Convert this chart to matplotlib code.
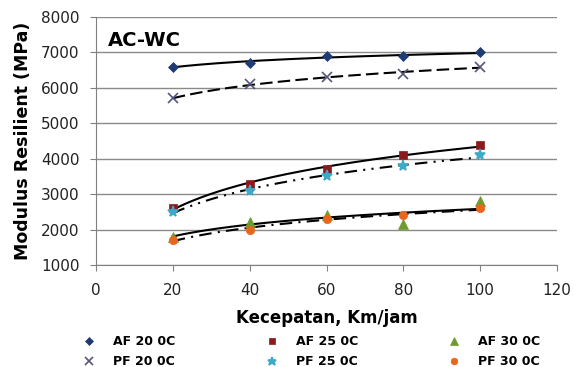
import numpy as np
import matplotlib
matplotlib.use("Agg")
import matplotlib.pyplot as plt

speed = [20, 40, 60, 80, 100]
af20 = [6600, 6700, 6900, 6900, 7000]
pf20 = [5700, 6100, 6300, 6400, 6600]
af25 = [2600, 3300, 3700, 4100, 4400]
pf25 = [2500, 3100, 3500, 3800, 4100]
af30 = [1800, 2200, 2400, 2150, 2800]
pf30 = [1700, 2000, 2300, 2400, 2600]

labels = ["AF 20 0C", "PF 20 0C", "AF 25 0C", "PF 25 0C", "AF 30 0C", "PF 30 0C"]
series = [af20, pf20, af25, pf25, af30, pf30]
markers = ["D", "x", "s", "*", "^", "o"]
colors = ["#1F3B73", "#55557A", "#8B1A1A", "#3FA9C9", "#6E9A2E", "#E8671C"]
msizes = [5, 7, 6, 8, 7, 6]
trend_styles = ["-", (0, (6, 2.5)), "-", (0, (6, 3, 1, 3, 1, 3)), "-", (0, (6, 3, 1, 3))]

plt.rcParams['font.family'] = ['DejaVu Sans']

fig = plt.figure(figsize=(5.74, 3.67), dpi=100)
ax = fig.add_axes([96/574, 1 - 265/367, (557 - 96)/574, (265 - 17)/367])

x = np.array(speed, dtype=float)
xs = np.linspace(20, 100, 200)
handles = []
for ys, m, c, ms, ls, lab in zip(series, markers, colors, msizes, trend_styles, labels):
    a, b = np.polyfit(np.log(x), np.array(ys, dtype=float), 1)
    ax.plot(xs, a*np.log(xs) + b, color="black", lw=1.5, linestyle=ls, zorder=2)
    mew = 1.2 if m in ("x", "*") else 0.5
    h, = ax.plot(x, ys, linestyle="none", marker=m, color=c, markersize=ms,
                 markeredgewidth=mew, zorder=3, label=lab)
    handles.append(h)

ax.set_xlim(0, 120)
ax.set_ylim(1000, 8000)
ax.set_xticks(range(0, 121, 20))
ax.set_yticks(range(1000, 8001, 1000))
ax.yaxis.grid(True, color="#8a8a8a", lw=1.0)
ax.set_axisbelow(True)
for s in ("top", "right"):
    ax.spines[s].set_visible(False)
for s in ("left", "bottom"):
    ax.spines[s].set_color("#808080")
ax.tick_params(axis="both", direction="out", length=4, color="#808080",
               labelsize=11, labelcolor="#222222")
ax.tick_params(axis="x", pad=9)
ax.tick_params(axis="y", pad=8)

ax.set_xlabel("Kecepatan, Km/jam", fontsize=12, fontweight="bold", labelpad=8)
ax.set_ylabel("Modulus Resilient (MPa)", fontsize=12.5, fontweight="bold", labelpad=6)
ax.text(3.1, 7330, "AC-WC", fontsize=14, fontweight="bold", va="center", ha="left")

fig.legend(handles=handles, labels=labels, ncol=3, loc="upper left",
           bbox_to_anchor=(83/574, 0.086), frameon=False, borderpad=0,
           borderaxespad=0, handlelength=1.0, handletextpad=1.42,
           columnspacing=7.2, labelspacing=0.52, markerscale=0.8,
           prop={"size": 9, "weight": "bold"})

fig.savefig("out.png", dpi=100)
